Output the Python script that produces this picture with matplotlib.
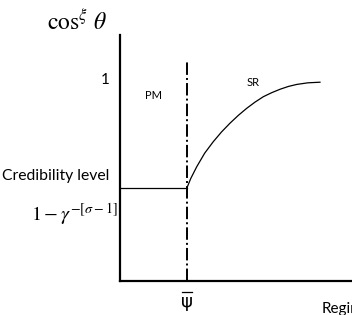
import matplotlib.pyplot as plt

# %% Data

psi_bar = 0.288          # threshold between PM and SR
cred_level = 0.462       # credibility level 1 - gamma^-[sigma-1]
dash_top = 1.09

curve_x = [0.288, 0.305, 0.331, 0.365, 0.402, 0.438, 0.474, 0.510, 0.546,
           0.582, 0.618, 0.654, 0.690, 0.726, 0.762, 0.810, 0.862]
curve_y = [0.462, 0.510, 0.569, 0.636, 0.693, 0.742, 0.785, 0.824, 0.859,
           0.890, 0.917, 0.937, 0.954, 0.968, 0.978, 0.986, 0.989]

# %% Plot

plt.rcParams["mathtext.fontset"] = "stix"

fig = plt.figure(figsize=(3.52, 3.15), dpi=100)
ax = fig.add_axes([120 / 352, 34 / 315, 232 / 352, 246 / 315])
ax.set_xlim(0, 1)
ax.set_ylim(0, 246 / 201)

for s in ["top", "right"]:
    ax.spines[s].set_visible(False)
for s in ["left", "bottom"]:
    ax.spines[s].set_linewidth(1.6)
ax.set_xticks([])
ax.set_yticks([])

ax.plot([0, psi_bar], [cred_level, cred_level], color="black", lw=0.9)
ax.plot([psi_bar, psi_bar], [0, dash_top], color="black", lw=1.4, ls="-.")
ax.plot(curve_x, curve_y, color="black", lw=0.9)

ax.text(0.145, 0.925, "PM", fontsize=8, family="Lato", ha="center", va="center")
ax.text(0.575, 0.99, "SR", fontsize=8, family="Lato", ha="center", va="center")

# labels outside the axes, in figure pixels
def ftext(x, y, s, **kw):
    fig.text(x / 352, 1 - y / 315, s, **kw)

ftext(77, 22, r"$\cos^{\xi}\,\theta$", fontsize=17, ha="center", va="center")
ftext(105, 80, "1", fontsize=11, family="Lato", ha="center", va="center")
ftext(56, 176, "Credibility level", fontsize=11.3, family="Lato",
      ha="center", va="center")
ftext(74, 214, r"$1-\gamma^{-[\sigma-1]}$", fontsize=14.5, ha="center", va="center")
ftext(187, 302, "ψ", fontsize=13, family="DejaVu Sans", ha="center", va="center")
fig.add_artist(plt.Line2D([182 / 352, 192 / 352], [1 - 292 / 315, 1 - 292 / 315],
                          color="black", lw=0.9))
ftext(322, 309, "Regime", fontsize=11, family="Lato", ha="left", va="center")

fig.savefig("out.png", dpi=100)
